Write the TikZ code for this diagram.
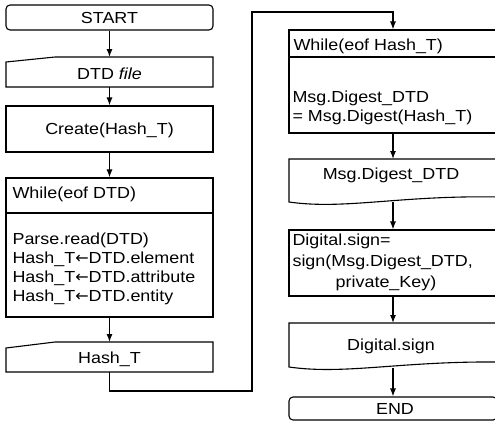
\documentclass[tikz,border=0pt]{standalone}
\usepackage{fontspec}
\setmainfont{Liberation Sans}[FakeStretch=1.12]
\newfontfamily\arrowfont{DejaVu Sans}
\newcommand{\larr}{{\arrowfont ←}}
\usetikzlibrary{arrows.meta}
\begin{document}
\begin{tikzpicture}[x=1pt,y=-1pt,line width=1.1pt,
  font=\fontsize{16}{19}\selectfont,
  box/.style={draw,rectangle,inner sep=0pt},
  rbox/.style={box,rounded corners=4pt},
  lbl/.style={inner sep=0pt},
  arr/.style={-{Latex[length=8pt,width=6pt]}}]
\useasboundingbox (0,0) rectangle (495,421);
\clip (0,0) rectangle (495,421);
% ---------- left column ----------
\node[rbox,minimum width=207pt,minimum height=25pt] (start) at (109.5,17.5) {};
\node[lbl] (starttxt) at (109.5,18) {START};
% DTD file (manual input)
\draw (6,62) -- (55,57) -- (213,57) -- (213,87) -- (6,87) -- cycle;
\coordinate (dtdtop) at (109.5,57);
\coordinate (dtdbot) at (109.5,87);
\node[lbl] (dtd) at (109.5,74) {DTD \textit{file}};
\node[box,minimum width=207pt,minimum height=46pt] (create) at (109.5,129) {};
\node[lbl] (createtxt) at (109.5,130) {Create(Hash\_T)};
\node[box,minimum width=207pt,minimum height=139pt] (while1) at (109.5,247.5) {};
\draw (while1.west |- {(0,213)}) -- (while1.east |- {(0,213)});
\node[lbl,anchor=west] (w1head) at (12,194) {While(eof DTD)};
\node[lbl,anchor=west] (w1a) at (12,240) {Parse.read(DTD)};
\node[lbl,anchor=west] (w1b) at (12,259) {Hash\_T\larr DTD.element};
\node[lbl,anchor=west] (w1c) at (12,278) {Hash\_T\larr DTD.attribute};
\node[lbl,anchor=west] (w1d) at (12,297) {Hash\_T\larr DTD.entity};
% Hash_T (manual input)
\draw (6,348) -- (55,342) -- (213,342) -- (213,372) -- (6,372) -- cycle;
\coordinate (hashtop) at (109.5,342);
\coordinate (hashbot) at (109.5,372);
\node[lbl] (hash) at (109.5,359) {Hash\_T};
% left arrows
\draw[arr] (start) -- (dtdtop);
\draw[arr] (dtdbot) -- (create);
\draw[arr] (create) -- (while1);
\draw[arr] (while1) -- (hashtop);
% ---------- connector ----------
\coordinate (c1) at (252,391);
\coordinate (c2) at (252,12);
% ---------- right column ----------
\node[box,minimum width=208pt,minimum height=103pt] (while2) at (393,81.5) {};
\draw (while2.west |- {(0,57)}) -- (while2.east |- {(0,57)});
\node[lbl,anchor=west] (w2head) at (293,46) {While(eof Hash\_T)};
\node[lbl,anchor=west] (w2a) at (292,98) {Msg.Digest\_DTD};
\node[lbl,anchor=west] (w2b) at (292,117) {= Msg.Digest(Hash\_T)};
\draw[arr] (hashbot) |- (c1) -- (c2) -| (while2);
% Msg.Digest_DTD (document)
\draw (500,197) -- (500,159) -- (289,159) -- (289,202) .. controls (345,210) and (400,195) .. (500,197);
\coordinate (mdtop) at (393,159);
\coordinate (mdbot) at (393,202);
\node[lbl] (md) at (391,175) {Msg.Digest\_DTD};
\node[box,minimum width=208pt,minimum height=66pt] (sign) at (393,263) {};
\node[lbl,anchor=west] (s1) at (292,241) {Digital.sign=};
\node[lbl,anchor=west] (s2) at (292,262) {sign(Msg.Digest\_DTD,};
\node[lbl] (s3) at (386,283) {private\_Key)};
% Digital.sign (document)
\draw (500,362) -- (500,323) -- (289,323) -- (289,367) .. controls (345,375) and (400,361) .. (500,362);
\coordinate (dstop) at (393,323);
\coordinate (dsbot) at (393,368);
\node[lbl] (ds) at (391,346) {Digital.sign};
\node[rbox,minimum width=208pt,minimum height=23pt] (end) at (393,408.5) {};
\node[lbl] (endtxt) at (395,409) {END};
% right arrows
\draw[arr] (while2) -- (mdtop);
\draw[arr] (mdbot) -- (sign);
\draw[arr] (sign) -- (dstop);
\draw[arr] (dsbot) -- (end);
\end{tikzpicture}
\end{document}
